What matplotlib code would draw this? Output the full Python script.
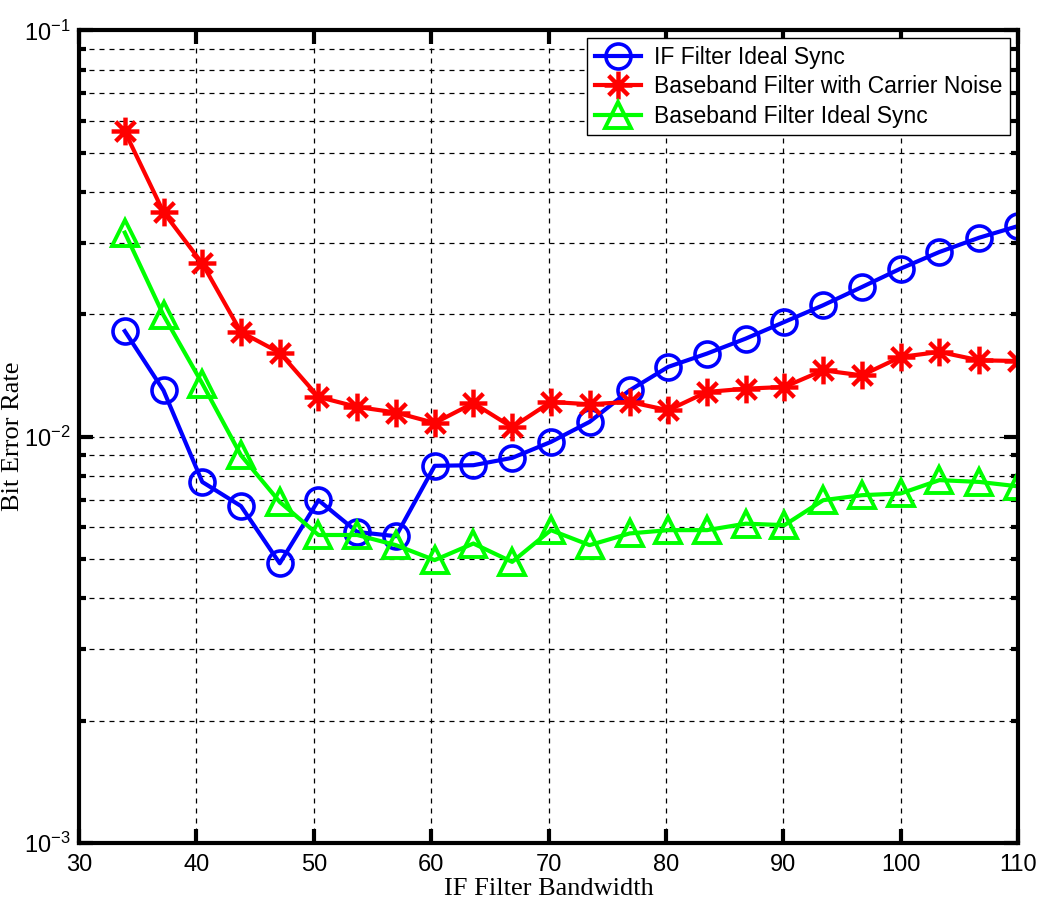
import matplotlib
matplotlib.use('Agg')
import matplotlib.pyplot as plt
from matplotlib.path import Path
from matplotlib.ticker import LogLocator, FixedLocator
import numpy as np

# Data
bandwidth = [33.9, 37.2, 40.5, 43.8, 47.1, 50.4, 53.7, 57.0, 60.3, 63.6, 66.9, 70.2,
             73.5, 76.9, 80.2, 83.5, 86.8, 90.1, 93.4, 96.7, 100.0, 103.3, 106.7, 110.0]

ber_if_ideal = [0.0182, 0.0130, 0.00774, 0.00675, 0.00488, 0.00698, 0.00583, 0.00569,
                0.00848, 0.00851, 0.00887, 0.00971, 0.01088, 0.0130, 0.01486, 0.01602,
                0.01744, 0.01917, 0.02107, 0.02336, 0.02593, 0.02849, 0.0309, 0.0330]

ber_bb_noise = [0.0564, 0.0357, 0.0267, 0.0181, 0.0161, 0.01253, 0.01184, 0.01147,
                0.01081, 0.0121, 0.01055, 0.01218, 0.01202, 0.01218, 0.01162, 0.01289,
                0.01313, 0.01326, 0.01457, 0.01416, 0.01572, 0.01617, 0.01542, 0.01536]

ber_bb_ideal = [0.0318, 0.0199, 0.01352, 0.0090, 0.00691, 0.00573, 0.00573, 0.00541,
                0.00497, 0.00546, 0.00492, 0.00589, 0.00541, 0.00578, 0.00589, 0.00589,
                0.00611, 0.00606, 0.00698, 0.00718, 0.00725, 0.00782, 0.00774, 0.00755]

labels = ['IF Filter Ideal Sync', 'Baseband Filter with Carrier Noise',
          'Baseband Filter Ideal Sync']

# MATLAB-style asterisk: four crossing strokes
d = np.sqrt(0.5)
asterisk = Path([(0, -1), (0, 1), (-1, 0), (1, 0), (-d, -d), (d, d), (-d, d), (d, -d)],
                [Path.MOVETO, Path.LINETO] * 4)

fig = plt.figure(figsize=(10.45, 9.11), dpi=100)
ax = fig.add_axes([0.0756, 0.0746, 0.8986, 0.892])

ax.plot(bandwidth, ber_if_ideal, color='#0000ff', lw=3, marker='o', ms=18,
        mfc='none', mec='#0000ff', mew=2.6, label=labels[0])
ax.plot(bandwidth, ber_bb_noise, color='#ff0000', lw=3, marker=asterisk, ms=20,
        mec='#ff0000', mew=3.2, label=labels[1])
ax.plot(bandwidth, ber_bb_ideal, color='#00ff00', lw=3, marker='^', ms=19,
        mfc='none', mec='#00ff00', mew=2.8, label=labels[2])

ax.set_yscale('log')
ax.set_xlim(30, 110)
ax.set_ylim(1e-3, 1e-1)
ax.xaxis.set_major_locator(FixedLocator(np.arange(30, 111, 10)))
ax.yaxis.set_minor_locator(LogLocator(base=10, subs=np.arange(2, 10), numticks=20))
ax.set_yticks([1e-3, 1e-2, 1e-1],
              [r'$\mathregular{10^{-3}}$', r'$\mathregular{10^{-2}}$',
               r'$\mathregular{10^{-1}}$'])

ax.grid(True, which='both', color='black', linestyle=(0, (4, 4)), linewidth=0.9)
ax.tick_params(which='both', direction='in', top=True, right=True, width=3,
               labelsize=17)
ax.tick_params(which='major', length=10)
ax.tick_params(which='minor', length=5)
ax.tick_params(axis='x', pad=8)
ax.tick_params(axis='y', pad=6)
for lbl in ax.get_xticklabels() + ax.get_yticklabels():
    lbl.set_family('Liberation Sans')
for sp in ax.spines.values():
    sp.set_linewidth(3)

ax.set_xlabel('IF Filter Bandwidth', family='Liberation Serif', fontsize=19, labelpad=1)
ax.set_ylabel('Bit Error Rate', family='Liberation Serif', fontsize=19, labelpad=0)

leg = ax.legend(loc='upper right', prop={'family': 'Liberation Sans', 'size': 16.5},
                fancybox=False, edgecolor='black', framealpha=1, borderaxespad=0.35,
                handlelength=2.0, handletextpad=0.6, labelspacing=0.28, borderpad=0.32)
leg.get_frame().set_linewidth(1)

fig.savefig('out.png', dpi=100)
